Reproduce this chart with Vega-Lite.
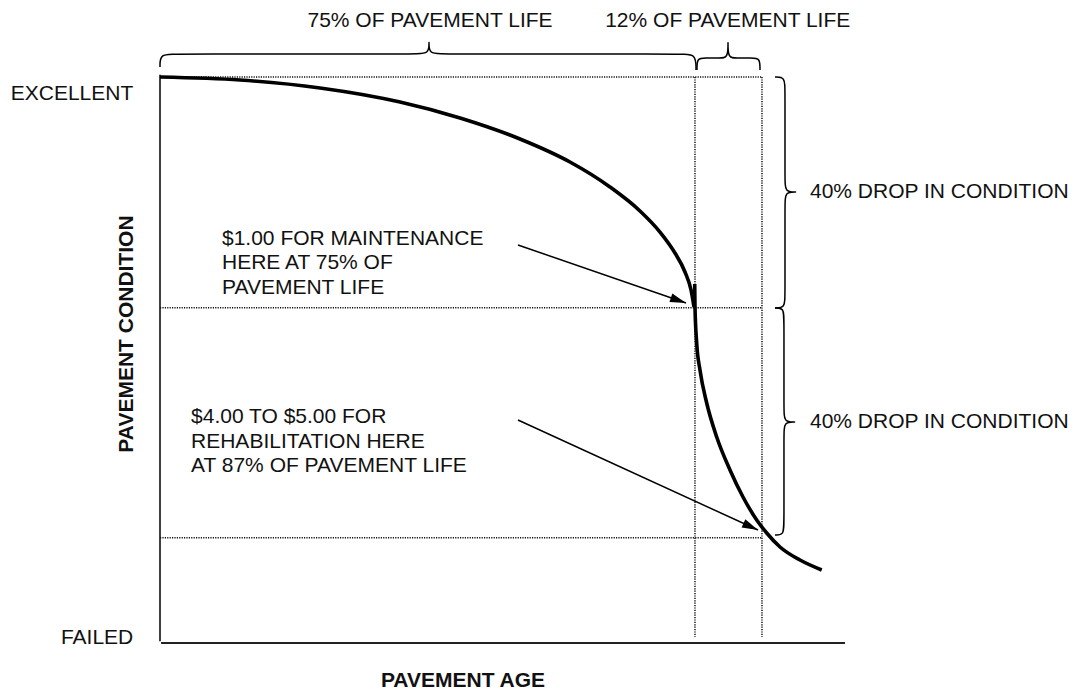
{
  "$schema": "https://vega.github.io/schema/vega-lite/v6.json",
  "width": 1076,
  "height": 692,
  "autosize": {"type": "fit", "contains": "padding"},
  "padding": 0,
  "background": "white",
  "config": {"view": {"stroke": null}, "font": "Liberation Sans"},
  "datasets": {
    "rules": [
      {"kind": "axisLeft", "age": 0, "cond": 0.3, "age2": 0, "cond2": 100.4},
      {"kind": "axisBottom", "age": 0.15, "cond": 0, "age2": 100, "cond2": 0},
      {"kind": "dot", "age": 0, "cond": 100, "age2": 87.88, "cond2": 100},
      {"kind": "dot", "age": 0, "cond": 59.24, "age2": 87.88, "cond2": 59.24},
      {"kind": "dot", "age": 0, "cond": 18.6, "age2": 87.88, "cond2": 18.6},
      {"kind": "dot", "age": 78.1, "cond": 100, "age2": 78.1, "cond2": 1.06},
      {"kind": "dot", "age": 87.88, "cond": 100, "age2": 87.88, "cond2": 1.06}
    ],
    "curve": [
      {"id": "up", "i": 0, "age": 0, "cond": 100},
      {"id": "up", "i": 1, "age": 11.68, "cond": 99.47},
      {"id": "up", "i": 2, "age": 23.36, "cond": 98.06},
      {"id": "up", "i": 3, "age": 35.04, "cond": 95.58},
      {"id": "up", "i": 4, "age": 43.8, "cond": 92.76},
      {"id": "up", "i": 5, "age": 52.55, "cond": 89.05},
      {"id": "up", "i": 6, "age": 59.85, "cond": 84.98},
      {"id": "up", "i": 7, "age": 65.69, "cond": 80.57},
      {"id": "up", "i": 8, "age": 70.07, "cond": 76.33},
      {"id": "up", "i": 9, "age": 72.99, "cond": 72.61},
      {"id": "up", "i": 10, "age": 75.18, "cond": 68.9},
      {"id": "up", "i": 11, "age": 76.64, "cond": 65.55},
      {"id": "up", "i": 12, "age": 77.52, "cond": 62.37},
      {"id": "up", "i": 13, "age": 77.96, "cond": 59.36},
      {"id": "low", "i": 0, "age": 78.06, "cond": 63.43},
      {"id": "low", "i": 1, "age": 78.1, "cond": 59.36},
      {"id": "low", "i": 2, "age": 78.35, "cond": 53.0},
      {"id": "low", "i": 3, "age": 78.83, "cond": 48.23},
      {"id": "low", "i": 4, "age": 79.81, "cond": 42.4},
      {"id": "low", "i": 5, "age": 81.27, "cond": 36.4},
      {"id": "low", "i": 6, "age": 83.21, "cond": 30.57},
      {"id": "low", "i": 7, "age": 85.11, "cond": 25.8},
      {"id": "low", "i": 8, "age": 87.11, "cond": 21.73},
      {"id": "low", "i": 9, "age": 88.57, "cond": 19.43},
      {"id": "low", "i": 10, "age": 90.51, "cond": 16.96},
      {"id": "low", "i": 11, "age": 93.43, "cond": 14.66},
      {"id": "low", "i": 12, "age": 96.6, "cond": 12.9}
    ],
    "arrows": [
      {"id": "a1", "i": 0, "age": 52.26, "cond": 70.32},
      {"id": "a1", "i": 1, "age": 76.79, "cond": 60.07},
      {"id": "a2", "i": 0, "age": 52.26, "cond": 39.4},
      {"id": "a2", "i": 1, "age": 87.3, "cond": 19.96}
    ],
    "tips": [
      {"id": "a1", "age": 76.79, "cond": 60.07},
      {"id": "a2", "age": 87.3, "cond": 19.96}
    ],
    "braces": [
      {"id": "t1", "i": 0, "age": 0, "cond": 101.77},
      {"id": "t1", "i": 1, "age": 0, "cond": 104.06},
      {"id": "t1", "i": 2, "age": 2.19, "cond": 104.06},
      {"id": "t1", "i": 3, "age": 37.23, "cond": 104.06},
      {"id": "t1", "i": 4, "age": 39.27, "cond": 104.06},
      {"id": "t1", "i": 5, "age": 39.27, "cond": 106.18},
      {"id": "t1", "i": 6, "age": 39.27, "cond": 106.18},
      {"id": "t1", "i": 7, "age": 39.27, "cond": 104.06},
      {"id": "t1", "i": 8, "age": 41.31, "cond": 104.06},
      {"id": "t1", "i": 9, "age": 76.2, "cond": 104.06},
      {"id": "t1", "i": 10, "age": 78.25, "cond": 104.06},
      {"id": "t1", "i": 11, "age": 78.25, "cond": 101.24},
      {"id": "t2", "i": 0, "age": 78.39, "cond": 101.24},
      {"id": "t2", "i": 1, "age": 78.39, "cond": 103.36},
      {"id": "t2", "i": 2, "age": 79.56, "cond": 103.36},
      {"id": "t2", "i": 3, "age": 81.75, "cond": 103.36},
      {"id": "t2", "i": 4, "age": 82.92, "cond": 103.36},
      {"id": "t2", "i": 5, "age": 82.92, "cond": 106.18},
      {"id": "t2", "i": 6, "age": 82.92, "cond": 106.18},
      {"id": "t2", "i": 7, "age": 82.92, "cond": 103.36},
      {"id": "t2", "i": 8, "age": 84.09, "cond": 103.36},
      {"id": "t2", "i": 9, "age": 86.42, "cond": 103.36},
      {"id": "t2", "i": 10, "age": 87.59, "cond": 103.36},
      {"id": "t2", "i": 11, "age": 87.59, "cond": 101.24},
      {"id": "r1", "i": 0, "age": 89.78, "cond": 100.0},
      {"id": "r1", "i": 1, "age": 91.24, "cond": 100.0},
      {"id": "r1", "i": 2, "age": 91.24, "cond": 97.7},
      {"id": "r1", "i": 3, "age": 91.24, "cond": 81.8},
      {"id": "r1", "i": 4, "age": 91.24, "cond": 79.68},
      {"id": "r1", "i": 5, "age": 92.85, "cond": 79.68},
      {"id": "r1", "i": 6, "age": 92.85, "cond": 79.68},
      {"id": "r1", "i": 7, "age": 91.24, "cond": 79.68},
      {"id": "r1", "i": 8, "age": 91.24, "cond": 77.56},
      {"id": "r1", "i": 9, "age": 91.24, "cond": 61.48},
      {"id": "r1", "i": 10, "age": 91.24, "cond": 59.19},
      {"id": "r1", "i": 11, "age": 89.78, "cond": 59.19},
      {"id": "r2", "i": 0, "age": 89.78, "cond": 59.19},
      {"id": "r2", "i": 1, "age": 91.09, "cond": 59.19},
      {"id": "r2", "i": 2, "age": 91.09, "cond": 57.07},
      {"id": "r2", "i": 3, "age": 91.09, "cond": 41.17},
      {"id": "r2", "i": 4, "age": 91.09, "cond": 39.05},
      {"id": "r2", "i": 5, "age": 92.7, "cond": 39.05},
      {"id": "r2", "i": 6, "age": 92.7, "cond": 39.05},
      {"id": "r2", "i": 7, "age": 91.09, "cond": 39.05},
      {"id": "r2", "i": 8, "age": 91.09, "cond": 36.93},
      {"id": "r2", "i": 9, "age": 91.09, "cond": 21.38},
      {"id": "r2", "i": 10, "age": 91.09, "cond": 19.08},
      {"id": "r2", "i": 11, "age": 89.78, "cond": 19.08}
    ],
    "labels": [
      {"kind": "center", "label": "75% OF PAVEMENT LIFE", "age": 39.42, "cond": 108.75},
      {"kind": "center", "label": "12% OF PAVEMENT LIFE", "age": 82.88, "cond": 108.75},
      {"kind": "right", "label": "EXCELLENT", "age": -3.9, "cond": 95.94},
      {"kind": "right", "label": "FAILED", "age": -3.9, "cond": -0.18},
      {"kind": "left", "label": "40% DROP IN CONDITION", "age": 94.89, "cond": 78.71},
      {"kind": "left", "label": "40% DROP IN CONDITION", "age": 94.89, "cond": 37.9},
      {"kind": "left", "label": "$1.00 FOR MAINTENANCE\nHERE AT 75% OF\nPAVEMENT LIFE", "age": 9.05, "cond": 70.32},
      {"kind": "left", "label": "$4.00 TO $5.00 FOR\nREHABILITATION HERE\nAT 87% OF PAVEMENT LIFE", "age": 4.53, "cond": 38.82},
      {"kind": "xtitle", "label": "PAVEMENT AGE", "age": 44.23, "cond": -7.77},
      {"kind": "ytitle", "label": "PAVEMENT CONDITION", "age": -3.94, "cond": 54.59}
    ]
  },
  "encoding": {
    "x": {"field": "age", "type": "quantitative", "scale": {"domain": [-23.358, 133.723], "nice": false, "zero": false}, "axis": null},
    "y": {"field": "cond", "type": "quantitative", "scale": {"domain": [-8.657, 113.604], "nice": false, "zero": false}, "axis": null}
  },
  "layer": [
    {
      "data": {"name": "rules"},
      "transform": [{"filter": "datum.kind === 'dot'"}],
      "mark": {"type": "rule", "color": "#111111", "strokeWidth": 1.5, "strokeDash": [1.2, 1.2]},
      "encoding": {"x2": {"field": "age2"}, "y2": {"field": "cond2"}}
    },
    {
      "data": {"name": "rules"},
      "transform": [{"filter": "datum.kind === 'axisLeft'"}],
      "mark": {"type": "rule", "color": "#111111", "strokeWidth": 1.6},
      "encoding": {"x2": {"field": "age2"}, "y2": {"field": "cond2"}}
    },
    {
      "data": {"name": "rules"},
      "transform": [{"filter": "datum.kind === 'axisBottom'"}],
      "mark": {"type": "rule", "color": "#222222", "strokeWidth": 2.2},
      "encoding": {"x2": {"field": "age2"}, "y2": {"field": "cond2"}}
    },
    {
      "data": {"name": "curve"},
      "mark": {"type": "line", "color": "black", "strokeWidth": 3.6, "interpolate": "monotone"},
      "encoding": {"detail": {"field": "id"}, "order": {"field": "i", "type": "quantitative"}}
    },
    {
      "data": {"name": "arrows"},
      "mark": {"type": "line", "color": "black", "strokeWidth": 1.5},
      "encoding": {"detail": {"field": "id"}, "order": {"field": "i", "type": "quantitative"}}
    },
    {
      "data": {"name": "tips"},
      "transform": [{"filter": "datum.id === 'a1'"}],
      "mark": {"type": "point", "shape": "M0,0L-1,-0.28L-1,0.28Z", "filled": true, "color": "black", "opacity": 1, "size": 1024, "angle": 19.05, "strokeWidth": 0}
    },
    {
      "data": {"name": "tips"},
      "transform": [{"filter": "datum.id === 'a2'"}],
      "mark": {"type": "point", "shape": "M0,0L-1,-0.28L-1,0.28Z", "filled": true, "color": "black", "opacity": 1, "size": 1024, "angle": 24.62, "strokeWidth": 0}
    },
    {
      "data": {"name": "braces"},
      "mark": {"type": "line", "color": "black", "strokeWidth": 1.5, "interpolate": "basis"},
      "encoding": {"detail": {"field": "id"}, "order": {"field": "i", "type": "quantitative"}}
    },
    {
      "data": {"name": "labels"},
      "transform": [{"filter": "datum.kind === 'center'"}],
      "mark": {"type": "text", "align": "center", "baseline": "alphabetic", "fontSize": 21, "color": "#111111"},
      "encoding": {"text": {"field": "label"}}
    },
    {
      "data": {"name": "labels"},
      "transform": [{"filter": "datum.kind === 'right'"}],
      "mark": {"type": "text", "align": "right", "baseline": "alphabetic", "fontSize": 21, "color": "#111111"},
      "encoding": {"text": {"field": "label"}}
    },
    {
      "data": {"name": "labels"},
      "transform": [{"filter": "datum.kind === 'left'"}],
      "mark": {"type": "text", "align": "left", "baseline": "alphabetic", "fontSize": 21, "lineHeight": 24.5, "lineBreak": "\n", "color": "#111111"},
      "encoding": {"text": {"field": "label"}}
    },
    {
      "data": {"name": "labels"},
      "transform": [{"filter": "datum.kind === 'xtitle'"}],
      "mark": {"type": "text", "align": "center", "baseline": "alphabetic", "fontSize": 21, "fontWeight": "bold", "color": "#111111"},
      "encoding": {"text": {"field": "label"}}
    },
    {
      "data": {"name": "labels"},
      "transform": [{"filter": "datum.kind === 'ytitle'"}],
      "mark": {"type": "text", "align": "center", "baseline": "alphabetic", "angle": 270, "fontSize": 21, "fontWeight": "bold", "color": "#111111"},
      "encoding": {"text": {"field": "label"}}
    }
  ]
}
